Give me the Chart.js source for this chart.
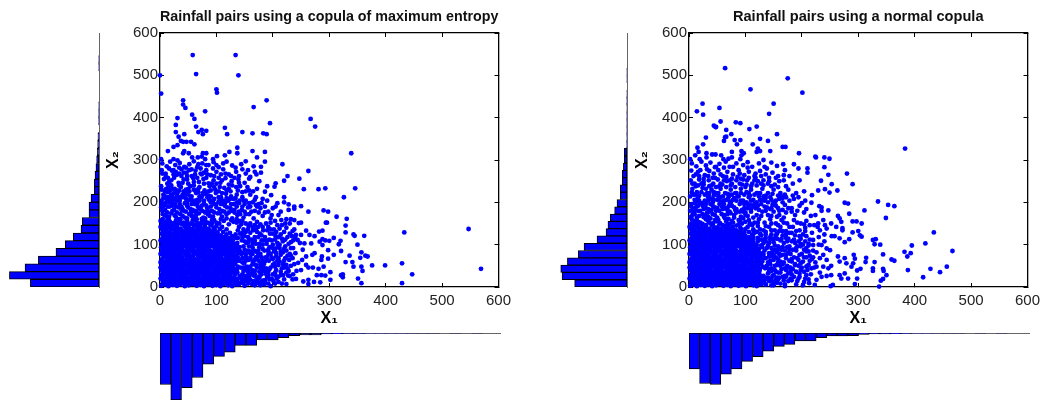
<!DOCTYPE html>
<html><head><meta charset="utf-8">
<script src="https://cdn.jsdelivr.net/npm/chart.js@4"></script>
<style>html,body{margin:0;padding:0;background:#fff;overflow:hidden}canvas{position:absolute}</style>
</head><body>
<canvas id="s1" style="left:100px;top:0;"></canvas>
<canvas id="l1" style="left:0;top:23px;"></canvas>
<canvas id="b1" style="left:150px;top:330px;"></canvas>
<canvas id="s2" style="left:629px;top:0;"></canvas>
<canvas id="l2" style="left:528px;top:23px;"></canvas>
<canvas id="b2" style="left:679px;top:330px;"></canvas>
<script>
const title1 = "Rainfall pairs using a copula of maximum entropy";
const title2 = "Rainfall pairs using a normal copula";
const tickValues = [0,100,200,300,400,500,600];
// marginal histograms (30 bins each)
const bottomCounts1 = [750,975,794,648,453,341,278,180,180,102,102,68,39,29,29,15,10,6,5,4,3,3,2,1,1,1,0,1,0,1];
const leftCounts1 = [721,941,777,637,452,354,270,189,175,105,105,84,49,49,42,32,25,18,14,11,0,4,4,3,0,0,0,0,3,3];
const bottomCounts2 = [521,735,750,599,521,414,346,263,195,166,117,117,68,44,44,39,19,15,15,10,5,3,2,1,1,1,0,1,0,1];
const leftCounts2 = [550,682,696,626,511,451,315,220,200,175,130,105,70,70,49,49,38,28,28,4,3,3,3,3,2,3,2,0,2,2];
const binWidth1 = 18.97, binHeight1 = 18.23, binWidth2 = 18.7, binHeight2 = 17.23;
// scatter points, flat x,y pairs: outliers
const sparse1 = [58,548,134,548,64,503,0,500,139,500,2,457,100,467,101,459,41,441,189,441,41,431,45,423,166,425,80,415,31,399,57,407,61,397,28,383,267,397,275,379,195,387,64,379,115,376,74,371,82,369,68,366,28,366,146,366,164,363,183,363,189,361,76,361,119,361,43,361,33,355,37,345,41,343,47,343,55,343,61,337,31,335,24,331,137,329,14,321,164,321,123,319,43,321,41,316,51,316,76,316,82,316,137,316,186,319,339,316,115,311,101,309,74,308,57,306,67,306,172,306,94,302,2,302,24,302,31,299,80,302,
263,274,226,262,247,256,220,251,205,245,203,237,179,270,179,284,217,290,186,296,346,233,293,233,281,231,255,231,186,225,326,212,220,212,197,217,290,181,298,178,263,178,313,166,331,161,294,152,296,152,329,145,329,129,343,124,345,121,362,121,433,129,547,137,308,116,320,109,317,101,350,100,321,85,298,87,357,82,308,76,364,74,368,72,336,74,355,69,329,59,341,59,343,48,357,48,359,38,376,51,399,51,429,56,569,43,447,30,351,20,429,9,357,9,324,30,321,28,324,23,302,35,302,17,293,27,298,67,290,48,286,64,287,72,281,43,271,46,263,46,278,28,286,28,284,11,273,12,263,7,263,17,254,13,241,19,235,18,227,27,224,7,250,40,259,52,252,64,245,57,235,68,229,64,270,76,274,80,259,72,274,120,282,131,288,133,283,107,288,113,300,109,293,110,288,99,265,123,268,103,256,103,250,123,244,111,259,133,238,136,241,123,250,152,246,151,238,158,232,160,224,160,215,158,238,190,238,185,250,191,228,195,228,182,220,200,208,198];
// mid-density cloud, estimated
const mid1 = [4,292,12,285,18,296,27,288,35,293,43,284,52,290,60,297,66,283,75,292,86,288,95,295,104,283,118,296,128,287,144,290,152,297,166,285,3,276,10,268,21,275,30,265,38,278,47,270,56,262,63,275,72,268,82,276,90,264,100,272,112,278,122,266,135,272,156,276,160,260,171,266,7,255,16,248,25,258,33,246,42,254,50,244,59,257,69,248,77,255,86,245,95,252,107,246,116,257,127,250,139,254,150,246,158,256,176,250,2,238,11,232,20,240,29,228,37,236,46,230,54,238,62,228,70,236,79,228,88,238,98,230,106,236,118,228,128,240,138,228,155,236,165,226,190,238,
6,218,14,224,22,214,31,222,39,212,48,220,56,214,64,222,73,212,81,220,90,214,99,222,108,212,117,220,126,214,136,218,146,212,160,218,170,212,182,208,3,204,10,198,18,206,27,196,35,204,44,198,52,206,61,196,70,204,78,198,87,206,95,196,104,202,112,196,121,204,131,196,141,204,150,196,164,200,175,196,190,204,205,190,2,188,9,182,17,190,25,182,33,188,42,180,50,188,58,182,67,190,75,180,84,186,92,180,100,188,110,180,119,188,127,180,136,190,145,182,156,188,168,180,178,186,192,178,200,186,214,178,
5,172,12,166,20,174,28,166,36,172,44,164,52,172,60,166,69,174,77,164,85,172,94,166,102,174,110,166,118,172,128,162,137,170,148,164,158,172,166,162,182,168,196,162,210,170,222,150,1,156,8,150,16,158,24,150,32,156,40,148,48,156,56,150,64,158,72,148,80,156,88,150,96,158,105,150,113,156,122,148,130,154,142,156,152,150,172,154,188,150,204,156,216,146,230,150,
140,142,148,136,157,144,165,134,174,142,183,134,192,142,202,136,212,138,224,140,235,132,142,126,150,120,160,128,168,118,177,126,186,118,195,126,205,120,214,124,226,118,236,110,145,110,153,104,162,112,170,102,180,110,189,102,198,110,208,104,218,108,228,102,248,104,141,94,150,88,158,96,167,86,176,94,185,86,194,94,204,88,212,92,224,86,236,92,253,88,144,78,152,72,160,80,170,70,178,78,187,70,196,78,206,72,214,76,222,68,240,80,140,62,149,56,157,64,166,54,175,62,184,54,193,62,203,56,212,60,224,52,238,54,143,46,151,40,160,48,168,38,177,46,186,38,196,46,206,40,216,44,228,38,242,38,146,30,154,24,162,32,171,22,180,30,190,24,200,30,210,24,218,28];
// solid core, estimated
const core1 = [2,3,9,6,15,2,23,5,30,3,36,6,44,2,51,4,57,7,65,3,72,5,78,2,86,6,93,3,99,5,107,2,113,7,121,4,128,2,136,6,150,3,163,7,178,4,196,2,5,12,12,10,19,14,26,11,33,13,41,10,47,15,54,12,62,10,68,14,75,11,83,13,89,10,96,15,104,12,110,10,117,14,125,11,132,13,142,10,155,15,170,12,186,10,201,14,1,20,8,18,16,22,22,19,29,21,37,18,43,23,50,20,58,18,64,22,71,19,79,21,85,18,92,23,100,20,106,18,114,22,120,19,129,21,137,18,2,29,11,27,18,31,25,28,34,30,40,26,46,32,55,29,61,26,67,31,76,28,82,30,88,26,97,32,103,29,111,26,116,31,124,28,133,30,
5,37,13,35,20,39,27,36,32,38,39,34,48,40,53,37,60,34,69,39,74,36,81,38,90,34,95,40,102,37,109,34,118,39,123,36,131,38,1,46,9,43,16,47,23,44,30,46,37,42,44,48,51,45,58,42,65,47,72,44,79,46,86,42,93,48,100,45,107,42,114,47,121,44,128,46,136,42,4,54,12,51,19,55,26,52,35,54,41,50,47,56,56,53,62,50,68,55,77,52,83,54,89,50,98,56,104,53,112,50,117,55,126,52,133,54,2,62,8,59,17,63,24,60,31,62,38,58,45,64,52,61,59,58,66,63,73,60,80,62,87,58,94,64,101,61,108,58,115,63,122,60,129,62,
6,70,13,67,21,71,28,68,33,70,40,66,49,72,54,69,61,66,70,71,75,68,82,70,91,66,96,72,103,69,110,66,119,71,124,68,132,70,1,78,10,75,15,79,22,76,29,78,36,74,43,80,50,77,57,74,64,79,71,76,78,78,85,74,92,80,99,77,106,74,113,79,120,76,127,78,135,74,4,86,12,83,18,87,25,84,34,86,42,82,48,88,55,85,63,82,69,87,76,84,84,86,90,82,97,88,105,85,111,82,118,87,125,84,133,86,2,94,9,91,16,95,23,92,30,94,37,90,44,96,51,93,58,90,65,95,72,92,79,94,86,90,93,96,100,93,107,90,114,95,121,92,128,94,
5,102,13,99,20,103,27,100,35,102,41,98,47,104,54,101,62,98,68,103,75,100,83,102,89,98,96,104,104,101,110,98,117,103,124,100,131,102,1,110,8,107,17,111,24,108,31,110,38,106,45,112,52,109,59,106,66,111,73,108,80,110,87,106,94,112,101,109,108,106,115,111,122,108,129,110,6,118,12,115,19,119,26,116,33,118,40,114,46,120,53,117,61,114,67,119,74,116,82,118,88,114,95,120,103,117,109,114,116,119,123,116,3,126,10,123,16,127,23,124,30,126,37,122,44,128,51,125,58,122,65,127,72,124,79,126,86,122,93,128,100,125,108,122,5,134,13,131,20,135,27,132,34,134,41,130,48,136,55,133,62,130,69,135,76,132,83,134,90,130,97,136,1,142,9,139,16,143,23,140,30,142,37,138,44,144,51,141,58,138,65,143,72,140,79,142,86,138,4,150,12,147,25,149,45,147,66,151,5,160,13,157,33,160,58,158,74,161];
// second estimated layer, filling the gaps of the dense area
const fill1 = [6,8,12,7,19,8,27,8,33,7,40,9,47,8,54,8,61,7,68,9,75,8,82,7,90,9,96,8,103,7,110,8,117,9,124,8,132,8,140,6,147,9,156,8,168,4,174,9,185,6,192,8,8,16,15,15,23,17,30,16,37,15,44,17,51,16,58,15,66,17,73,16,79,15,87,17,93,16,100,15,108,17,114,16,121,15,128,17,136,14,146,17,152,21,160,17,174,19,182,15,194,18,207,20,4,24,12,23,20,25,26,24,33,25,40,23,47,25,54,24,60,23,68,25,75,24,82,25,89,23,96,25,104,24,111,23,118,25,125,24,132,23,141,26,149,27,158,26,166,27,176,25,188,31,205,27,7,33,14,32,22,33,29,33,36,32,43,34,51,33,58,32,65,34,72,33,79,32,86,34,93,33,100,32,107,34,114,33,121,32,128,34,137,35,
3,41,11,40,18,42,25,41,33,40,41,42,48,36,55,41,62,40,69,34,76,42,83,41,88,42,97,41,104,41,111,42,116,41,125,40,133,42,6,50,14,49,21,50,28,49,34,50,42,52,50,51,57,50,64,51,71,50,78,49,85,52,92,51,100,50,106,51,114,50,120,49,129,50,138,48,1,58,10,56,15,58,22,56,29,57,36,55,43,60,50,57,57,55,64,56,71,57,78,56,84,60,91,58,98,60,105,57,112,58,119,58,126,58,135,60,4,66,12,64,19,66,26,64,35,65,42,63,47,67,56,65,63,64,68,66,77,64,84,65,89,62,98,66,105,65,111,64,117,66,127,65,135,66,
7,74,14,72,19,74,26,73,32,73,39,71,46,75,53,73,59,71,67,74,74,73,80,74,88,71,94,75,102,72,108,71,116,74,123,72,130,75,138,70,3,82,7,80,14,83,21,81,28,82,35,79,45,84,51,81,60,79,66,83,73,81,81,82,88,78,95,83,102,81,109,78,115,83,122,81,130,82,138,80,6,90,14,88,20,90,28,88,33,90,40,87,48,92,53,89,61,86,68,91,75,88,82,90,89,86,98,92,103,89,111,87,118,90,125,89,132,90,140,88,7,98,11,96,18,99,25,96,32,98,39,94,46,100,49,97,56,94,63,99,70,96,77,98,84,94,91,100,98,97,105,94,112,99,119,97,126,98,135,96,
3,106,11,103,15,107,22,104,29,106,36,102,43,108,50,105,57,102,64,107,71,104,78,106,85,102,92,108,99,105,106,102,113,107,120,104,127,106,137,104,4,114,10,111,14,115,21,112,28,114,35,110,42,116,49,113,56,110,63,115,70,112,77,114,84,110,91,116,98,113,105,110,112,115,119,112,127,114,135,116,7,122,14,119,21,123,28,120,35,122,42,118,49,124,56,121,63,118,70,123,77,120,84,122,91,118,98,124,104,121,112,118,118,124,128,120,134,124,8,130,15,127,18,128,26,128,32,130,39,126,46,132,53,129,60,126,67,131,74,128,81,130,88,126,95,132,102,129,112,130,124,128,3,138,11,135,18,139,25,136,32,138,39,134,46,140,53,137,60,134,67,139,74,136,81,138,88,134,95,140,106,137,118,136,8,146,16,143,20,150,30,146,37,150,52,149,60,146,72,150,80,148,90,146,100,144,110,142,3,158,18,153,28,156,36,160,48,162,65,160,80,162,92,158,8,170,16,166,26,169,40,168,56,168,64,170,88,168,
3,230,8,215,12,212,16,200,22,192,28,190,35,196,40,184,48,192,55,176,62,178,70,185,82,178,90,190,105,184,115,192,125,186,132,176,142,172,150,178,162,178,175,176,186,176,198,170,15,212,24,206,30,214,40,218,46,208,55,206,66,206,75,216,84,212,96,208,108,206,118,210,130,208,140,198,152,204,168,206,180,198,15,236,25,222,34,240,42,226,50,232,60,240,68,224,78,244,90,228,100,244,110,222,122,232,135,236,146,224,158,228,172,232,10,262,20,252,28,272,38,262,46,282,56,278,62,266,72,280,82,258,96,262,108,266,126,262,140,262,152,268,168,272,
136,152,144,148,160,150,168,146,178,148,196,152,208,146,138,134,152,130,164,142,172,130,182,142,196,136,206,130,220,130,230,126,138,116,146,118,156,118,164,104,174,118,184,110,194,112,204,112,216,114,240,114,136,102,148,96,156,106,164,94,174,86,182,100,192,84,200,100,212,100,222,96,232,92,136,88,146,80,156,86,164,78,174,74,182,90,192,76,202,84,218,82,230,78,146,68,154,66,164,62,172,70,182,62,190,66,200,66,210,68,220,62,232,74,146,58,154,48,164,54,172,46,182,48,188,44,200,52,210,52,220,46,232,50,148,38,156,36,164,40,176,36,182,38,192,36,204,34,214,36,224,34,236,30,150,14,158,24,168,30,176,22,186,16,198,20,210,12,220,18];
const more1 = [5,146,11,154,22,146,28,150,35,154,42,152,50,146,58,154,66,146,74,154,84,152,92,150,100,152,108,160,118,162,126,158,136,160,146,156,4,180,13,176,22,180,30,176,38,182,46,178,54,184,64,180,72,184,80,176,88,178,96,176,106,174,114,178,122,176,132,182,140,178,152,172,160,190,172,190,3,196,7,192,14,190,21,198,30,204,38,190,48,198,56,196,66,198,74,192,82,192,90,200,100,196,108,196,116,200,126,196,136,200,146,190,158,198,170,194,186,190,6,210,12,204,20,218,27,208,35,212,44,212,52,216,60,204,70,214,78,204,86,216,94,204,104,212,112,204,124,208,134,210,148,204,9,226,18,228,26,232,34,228,44,222,52,226,60,230,68,232,76,222,86,226,96,236,104,226,114,234,125,226,142,238,152,226,
4,268,14,258,24,266,34,268,42,270,52,276,60,248,74,266,84,266,94,280,104,258,116,268,134,282,146,278,140,246,13,244,22,232,40,246,48,254,66,258,78,270,92,244,110,252,122,242,132,258,16,280,24,276,34,282,48,262,68,290,82,288,100,288,112,292,
146,128,156,136,170,136,180,122,190,134,200,126,210,118,222,112,234,120,150,108,158,112,168,110,176,102,190,110,200,92,208,94,220,90,232,106,142,84,152,78,162,84,172,82,180,70,192,88,206,80,214,84,226,74,152,62,160,70,168,64,178,54,186,60,198,70,208,62,218,54,226,44,148,46,158,42,170,52,180,40,194,42,204,48,214,28,230,26,144,20,156,28,166,14,180,12,192,28,204,8,216,8];
// right panel
const sparse2 = [64,517,175,493,201,459,109,467,14,415,24,433,150,433,54,423,25,407,142,409,56,391,83,389,91,387,44,381,47,378,48,378,120,379,107,373,66,371,75,361,156,361,66,355,64,354,30,353,126,350,81,347,91,347,62,345,140,345,25,337,113,337,85,337,15,329,166,331,171,331,122,327,383,327,120,319,126,321,144,321,17,319,93,321,97,316,93,311,31,316,76,319,195,316,41,313,47,313,57,311,11,311,224,308,225,306,240,306,249,303,31,306,76,306,70,303,61,302,91,302,2,302,19,302,132,300,
280,268,290,243,247,265,240,283,234,251,253,243,229,228,241,231,249,223,263,228,218,217,210,280,210,270,194,280,186,290,167,290,217,199,206,204,276,199,282,197,335,202,353,194,364,191,311,181,349,163,284,173,247,181,231,191,235,188,235,180,264,168,267,162,270,154,290,155,297,155,306,150,252,150,241,146,229,150,272,139,272,134,261,142,300,132,303,122,306,119,290,129,434,129,326,111,331,113,329,101,339,100,284,113,276,106,395,98,419,103,467,85,382,83,393,80,387,72,344,77,314,69,313,59,329,59,359,65,364,62,292,76,294,67,291,56,288,48,279,56,276,68,264,72,267,60,304,43,298,39,326,44,326,38,344,43,345,38,350,28,388,40,428,43,457,48,445,35,415,23,344,19,340,15,337,1,298,20,294,7,282,20,276,32,267,28,270,20,255,5,251,2,244,26,252,28,235,24,226,17,223,5,213,9,238,48,247,44,252,50,226,48,217,44,208,48,208,70,220,70,232,68,244,64,250,87,244,91,235,99,220,99,220,111,253,120,258,120,267,115];
const mid2 = [5,292,13,285,22,296,30,287,38,294,46,283,54,291,65,296,72,284,84,292,96,288,104,295,112,284,124,292,134,284,146,294,156,286,170,276,4,275,12,266,20,276,28,264,36,274,44,268,52,276,60,262,68,272,78,266,88,276,98,264,106,272,116,262,126,274,136,266,148,270,158,262,178,262,3,252,10,244,18,254,26,242,35,252,43,244,51,254,59,242,67,250,76,244,84,252,94,242,103,252,112,244,122,250,132,240,142,250,152,242,168,252,184,244,196,252,
6,232,14,224,24,234,32,222,40,230,48,222,56,232,64,222,74,230,82,222,92,232,102,224,110,230,120,222,130,232,140,222,150,230,162,222,176,230,190,222,204,226,2,214,10,206,18,216,28,204,36,212,44,206,52,214,62,204,70,212,78,206,88,214,96,204,106,212,114,206,124,214,134,204,144,212,154,204,166,210,178,204,194,212,4,196,12,188,20,198,30,186,38,196,46,188,54,196,64,186,72,194,80,188,90,196,98,186,108,194,118,186,128,196,138,188,148,194,158,186,170,194,182,186,196,192,208,184,2,180,10,172,20,180,28,170,36,178,46,170,54,180,62,170,72,178,80,170,90,178,100,170,110,178,120,170,130,178,140,170,150,178,160,170,172,176,188,170,204,176,216,168,224,170,
106,158,116,152,124,160,134,152,144,160,154,150,164,158,174,150,186,158,198,150,208,156,222,146,238,158,104,142,114,134,122,144,132,134,142,142,152,134,162,142,172,132,184,142,196,134,206,140,218,128,232,134,244,138,128,122,136,116,146,124,156,114,166,122,176,114,188,122,198,114,208,120,230,118,240,124,132,104,140,98,150,106,158,96,168,104,178,96,188,104,198,96,208,92,230,100,240,108,134,86,142,80,152,88,160,78,170,86,180,78,190,86,200,78,212,84,226,82,238,76,136,68,144,62,154,70,162,60,172,68,182,60,192,68,202,60,214,62,224,58,138,50,146,44,156,52,164,42,174,50,184,42,194,50,204,36,216,30,232,34,140,32,148,26,158,34,166,24,176,32,186,24,196,32,206,20,134,16,150,12,162,8,176,14,190,6,202,4];
const core2 = [2,3,8,6,14,2,21,5,28,3,34,6,41,2,48,4,54,7,61,3,68,5,74,2,81,6,88,3,94,5,101,2,107,7,114,4,120,2,128,6,4,12,11,10,18,14,24,11,31,13,38,10,45,15,51,12,58,10,64,14,71,11,78,13,84,10,91,15,98,12,104,10,111,14,117,11,124,13,131,10,1,20,7,18,15,22,21,19,27,21,35,18,41,23,48,20,55,18,61,22,67,19,75,21,81,18,88,23,95,20,101,18,108,22,114,19,121,21,128,18,3,29,10,27,17,31,24,28,32,30,38,26,44,32,52,29,58,26,64,31,72,28,78,30,84,26,92,32,98,29,105,26,111,31,118,28,125,30,
5,37,12,35,19,39,26,36,30,38,37,34,46,40,50,37,57,34,66,39,70,36,77,38,86,34,90,40,97,37,104,34,113,39,118,36,125,38,1,46,8,43,15,47,22,44,29,46,35,42,42,48,49,45,55,42,62,47,69,44,76,46,82,42,89,48,96,45,103,42,110,47,116,44,123,46,4,54,11,51,18,55,25,52,33,54,39,50,45,56,53,53,59,50,65,55,74,52,80,54,85,50,94,56,100,53,107,50,112,55,120,52,127,54,2,62,7,59,16,63,23,60,29,62,36,58,43,64,49,61,56,58,63,63,70,60,76,62,83,58,90,64,97,61,103,58,110,63,117,60,124,62,
6,70,12,67,20,71,27,68,31,70,38,66,47,72,51,69,58,66,67,71,72,68,78,70,87,66,92,72,98,69,105,66,114,71,119,68,126,70,1,78,9,75,14,79,21,76,28,78,34,74,41,80,48,77,54,74,61,79,68,76,75,78,81,74,88,80,95,77,102,74,108,79,115,76,122,78,4,86,11,83,17,87,24,84,32,86,40,82,46,88,52,85,60,82,66,87,73,84,80,86,86,82,93,88,100,85,106,82,113,87,120,84,2,94,8,91,15,95,22,92,28,94,35,90,42,96,49,93,55,90,62,95,69,92,76,94,82,90,89,96,96,93,103,90,109,95,116,92,
5,102,12,99,19,103,26,100,33,102,39,98,45,104,52,101,59,98,65,103,72,100,79,102,85,98,92,104,99,101,105,98,112,103,119,100,1,110,7,107,16,111,23,108,29,110,36,106,43,112,50,109,56,106,63,111,70,108,77,110,83,106,90,112,97,109,104,106,110,111,6,118,11,115,18,119,25,116,31,118,38,114,44,120,51,117,58,114,64,119,71,116,78,118,84,114,91,120,98,117,105,114,3,126,9,123,15,127,22,124,28,126,35,122,42,128,49,125,55,122,62,127,69,124,76,126,82,122,89,128,96,125,5,134,12,131,19,135,26,132,32,134,39,130,46,136,53,133,59,130,66,135,73,132,80,134,86,130,93,136,1,142,8,139,15,143,22,140,29,142,36,138,43,144,50,141,56,138,63,143,70,140,77,142,4,150,11,147,24,149,40,147,55,151,72,149,88,148,5,160,14,157,30,160,52,158,70,161,88,158];
const fill2 = [5,8,11,7,18,8,25,8,31,7,38,9,45,8,52,8,58,7,65,9,71,8,78,7,85,9,91,8,98,7,104,8,111,9,118,8,125,8,136,6,142,14,150,4,158,18,170,6,180,20,6,16,13,15,21,17,28,16,34,15,41,17,48,16,54,15,62,17,69,16,75,15,82,17,88,16,95,15,102,17,108,16,115,15,122,17,130,14,136,22,146,20,154,18,168,16,4,24,11,23,18,25,25,24,31,25,38,23,45,25,51,24,58,23,64,25,71,24,78,25,85,23,91,25,98,24,105,23,112,25,118,24,125,23,132,26,142,36,7,33,13,32,20,33,27,33,34,32,41,34,48,33,54,32,61,34,68,33,75,32,81,34,88,33,95,32,101,34,108,33,115,32,122,34,130,24,
3,41,9,40,16,42,23,41,31,40,38,42,44,36,51,41,58,40,64,34,71,42,78,41,84,42,92,41,99,41,105,42,110,41,118,40,126,43,135,44,6,50,13,49,19,50,26,49,32,50,40,52,47,51,53,50,60,51,67,50,73,49,80,52,87,51,94,50,100,51,108,50,114,49,122,50,131,48,142,56,1,58,9,56,14,58,20,56,27,57,34,55,41,60,47,57,53,55,60,56,67,57,74,56,79,60,86,58,92,60,99,57,106,58,112,58,120,58,130,60,148,72,4,66,10,64,18,66,25,64,32,65,39,63,44,67,52,65,59,64,65,66,72,64,79,65,84,62,92,66,99,65,105,64,111,66,120,65,130,66,158,66,
7,74,13,72,18,74,24,73,30,73,37,71,44,75,50,73,56,71,63,74,70,73,76,74,83,71,89,75,96,72,102,71,110,74,117,72,124,75,132,76,3,82,7,80,13,83,20,81,27,82,33,79,43,84,48,81,57,79,63,83,70,81,77,82,84,78,90,83,97,81,104,78,110,83,116,81,124,82,131,80,146,92,164,88,6,90,13,88,19,90,26,88,31,90,38,87,45,92,50,89,58,86,64,91,71,88,78,90,84,86,92,92,98,89,105,87,111,90,118,89,124,90,130,94,7,98,10,96,17,99,23,96,30,98,37,94,44,100,47,97,53,94,60,99,67,96,73,98,80,94,86,100,93,97,100,94,106,99,113,97,120,98,128,98,
3,106,10,103,14,107,21,104,27,106,34,102,41,108,47,105,54,102,61,107,67,104,74,106,81,102,88,108,95,105,101,102,108,107,114,104,122,108,132,112,4,114,9,111,13,115,20,112,26,114,33,110,40,116,46,113,53,110,60,115,66,112,73,114,80,110,87,116,93,113,100,110,107,115,114,112,122,116,7,122,13,119,20,123,27,120,33,122,40,118,47,124,53,121,60,118,67,123,73,120,80,122,87,118,93,124,100,121,106,118,112,124,120,130,8,130,14,127,17,128,24,128,30,130,37,126,44,132,51,129,57,126,64,131,71,128,78,130,84,126,91,132,98,129,106,130,114,136,3,138,10,135,17,139,24,136,30,138,37,134,44,140,51,137,57,134,64,139,71,136,78,138,84,134,91,140,100,137,108,148,8,146,15,143,20,152,30,146,36,152,48,155,60,146,66,155,78,152,84,145,94,150,3,165,16,154,26,165,38,162,46,158,62,166,80,164,96,162,104,168,8,175,18,168,32,175,42,172,58,172,68,172,84,176,96,178,
8,185,16,180,24,192,34,184,42,192,50,186,58,190,68,182,76,192,84,184,94,182,104,186,114,192,124,182,134,190,144,184,154,192,166,182,176,186,192,180,14,202,24,198,34,204,42,200,50,206,58,200,66,206,74,200,84,204,92,204,102,200,110,204,120,200,130,206,140,200,150,200,160,208,172,212,186,208,200,198,8,218,16,212,28,218,36,222,44,216,52,222,60,214,68,220,76,218,84,222,98,218,106,222,116,218,126,222,136,216,148,220,158,216,170,218,184,216,12,238,22,244,30,232,40,240,48,236,56,244,66,236,74,240,82,236,90,244,100,236,110,238,120,240,132,252,146,238,158,236,172,238,8,262,18,262,26,256,34,262,46,258,56,266,66,260,76,256,86,260,96,254,106,258,118,258,128,262,142,258,154,258,168,264,
108,150,122,152,136,144,146,150,158,146,168,152,178,142,192,152,204,148,214,146,228,142,112,146,126,136,136,130,146,134,156,126,166,132,178,128,190,132,202,124,214,112,116,128,126,126,136,124,144,112,154,122,164,114,172,116,182,108,194,108,206,108,220,86,142,104,152,98,162,92,174,94,184,88,192,96,204,88,214,74,138,92,148,84,158,88,166,76,176,80,186,70,196,76,204,70,142,72,150,64,158,58,168,58,178,62,188,54,198,56,212,52,144,54,152,50,162,50,170,44,180,46,190,36,200,46,210,40,146,38,154,36,162,34,172,40,180,38,196,24,208,28,140,22,150,28,160,22,172,24,182,16,192,14,204,12,136,6,146,4,156,10,170,2];
const more2 = [10,156,20,150,34,156,42,150,54,148,68,148,76,156,90,156,100,154,6,170,14,164,24,172,34,166,50,164,64,162,74,174,92,166,100,176,114,164,128,168,146,168,156,166,168,164,4,190,10,180,16,192,26,184,40,182,48,180,60,184,70,190,82,182,98,196,110,184,122,192,136,180,146,186,160,180,182,178,10,198,18,204,30,196,40,208,54,206,62,196,72,202,80,210,94,202,104,196,116,196,126,206,136,210,152,196,166,200,5,224,12,218,22,224,34,212,44,224,56,212,72,218,86,214,92,222,108,216,122,222,132,214,146,206,164,214,6,244,16,240,26,248,36,238,54,238,62,252,72,252,92,256,102,242,116,252,128,244,140,244,160,250,16,272,32,278,42,258,48,284,62,282,78,284,90,268,104,282,118,268,138,280,
114,118,128,112,144,118,160,132,172,124,182,128,196,120,206,132,136,108,150,114,162,110,174,108,186,112,198,102,212,102,130,78,146,80,156,82,166,94,178,88,190,92,202,100,212,98,140,58,150,76,162,74,172,76,182,66,194,64,208,84,218,66,142,42,152,40,166,54,178,46,188,52,198,40,210,50,222,46,144,14,156,22,170,26,182,30,194,20,212,18];

const BLUE = '#0000ff';
const TICKS = {family:'"Liberation Sans"',size:15};
function toPoints(...lists){const out=[];for(const l of lists)for(let i=0;i<l.length;i+=2)out.push({x:l[i],y:l[i+1]});return out;}
function size(id,w,h){const c=document.getElementById(id);c.style.width=w+'px';c.style.height=h+'px';c.width=w;c.height=h;return c;}
function tickAxis(position,extra){return Object.assign({type:'linear',position,min:0,max:600,
  afterBuildTicks:s=>{s.ticks=tickValues.map(v=>({value:v}));},
  border:{display:true,color:'#000',width:1.3},
  grid:{drawOnChartArea:false,drawTicks:true,tickLength:-4,color:'#000',lineWidth:1},
  ticks:{display:false}},extra);}
function scatter(id,title,pts){
  new Chart(size(id,420,340),{type:'scatter',
    data:{datasets:[{data:pts,xAxisID:'x',yAxisID:'y',backgroundColor:BLUE,borderColor:BLUE,pointRadius:2.4,borderWidth:0,clip:false}]},
    options:{responsive:false,animation:false,events:[],layout:{padding:{left:0,right:20,top:0,bottom:0}},
      plugins:{legend:{display:false},tooltip:{enabled:false},
        title:{display:true,fullSize:false,text:title,color:'#111',font:{family:'"Liberation Sans"',size:14.6,weight:'bold',lineHeight:1.2},padding:{top:8.5,bottom:7}}},
      scales:{
        x:tickAxis('bottom',{afterFit:s=>{s.height=53;},ticks:{display:true,color:'#222',font:TICKS,padding:9,maxRotation:0,autoSkip:false},
          title:{display:true,text:'X\u2081',color:'#000',font:{family:'"Liberation Sans"',size:16,weight:'bold'},padding:{top:0,bottom:12}}}),
        y:tickAxis('left',{afterFit:s=>{s.width=60;},ticks:{display:true,color:'#222',font:TICKS,padding:6,autoSkip:false},
          title:{display:true,text:'X\u2082',color:'#000',font:{family:'"Liberation Sans"',size:16,weight:'bold'},padding:{top:4,bottom:0}}}),
        x2:tickAxis('top',{afterFit:s=>{s.height=0;}}),
        y2:tickAxis('right',{afterFit:s=>{s.width=0;}})
      }}});
}
function bottomHist(id,counts,bw){
  const pts=counts.map((c,i)=>({x:(i+0.5)*bw,y:c}));
  new Chart(size(id,370,70),{type:'bar',
    data:{datasets:[{data:pts,backgroundColor:BLUE,borderColor:'#000',borderWidth:1,borderSkipped:false,barPercentage:1,categoryPercentage:1}]},
    options:{responsive:false,animation:false,events:[],layout:{padding:{left:10,right:20,top:3,bottom:0}},
      plugins:{legend:{display:false},tooltip:{enabled:false},title:{display:false}},
      scales:{x:{type:'linear',position:'top',offset:false,min:0,max:600,grid:{display:false},ticks:{display:false},border:{display:true,color:'#666'},afterFit:s=>{s.height=0;}},
              y:{display:false,reverse:true,min:0,max:975}}}});
}
function leftHist(id,counts,bh,axisRight){
  const pts=counts.map((c,i)=>({y:(i+0.5)*bh,x:c}));
  new Chart(size(id,axisRight+10,274),{type:'bar',
    data:{datasets:[{data:pts,backgroundColor:BLUE,borderColor:'#000',borderWidth:1,borderSkipped:false,barPercentage:1,categoryPercentage:1}]},
    options:{indexAxis:'y',responsive:false,animation:false,events:[],layout:{padding:{left:0,right:10,top:10,bottom:10}},
      plugins:{legend:{display:false},tooltip:{enabled:false},title:{display:false}},
      scales:{y:{type:'linear',position:'right',offset:false,min:0,max:600,grid:{display:false},ticks:{display:false},border:{display:true,color:'#666'},afterFit:s=>{s.width=0;}},
              x:{display:false,reverse:true,min:0,max:1040}}}});
}
scatter('s1',title1,toPoints(core1,fill1,more1,mid1,sparse1));
leftHist('l1',leftCounts1,binHeight1,99);
bottomHist('b1',bottomCounts1,binWidth1);
scatter('s2',title2,toPoints(core2,fill2,more2,mid2,sparse2));
leftHist('l2',leftCounts2,binHeight2,99);
bottomHist('b2',bottomCounts2,binWidth2);
</script>
</body></html>
